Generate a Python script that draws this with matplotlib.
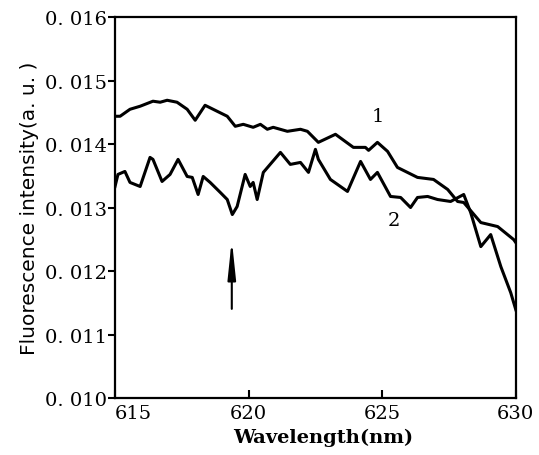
import numpy as np
import matplotlib
matplotlib.use("Agg")
import matplotlib.pyplot as plt

# curve 1 (upper)
wl_1 = [615.0, 615.19, 615.56, 615.94, 616.42, 616.69, 616.95, 617.32, 617.70, 618.0,
        618.37, 618.82, 619.20, 619.50, 619.80, 620.17, 620.44, 620.70, 620.92, 621.45,
        621.94, 622.20, 622.61, 623.25, 623.92, 624.37, 624.49, 624.82, 625.20, 625.57,
        626.32, 626.92, 627.45, 627.82, 628.05, 628.69, 629.32, 629.92, 630.0]
int_1 = [0.014437, 0.014437, 0.014547, 0.014595, 0.014674, 0.014658, 0.014689, 0.014658, 0.014547, 0.014374,
         0.014610, 0.014516, 0.014437, 0.014279, 0.014310, 0.014263, 0.014310, 0.014232, 0.014263, 0.014200,
         0.014232, 0.014200, 0.014026, 0.014153, 0.013947, 0.013947, 0.013900, 0.014026, 0.013884, 0.013631,
         0.013474, 0.013442, 0.013284, 0.013095, 0.013079, 0.012763, 0.012700, 0.012495, 0.012447]

# curve 2 (lower)
wl_2 = [615.0, 615.11, 615.37, 615.56, 615.94, 616.31, 616.42, 616.76, 617.06, 617.36,
        617.70, 617.89, 618.11, 618.30, 618.56, 618.94, 619.20, 619.39, 619.57, 619.87,
        620.06, 620.17, 620.32, 620.55, 621.19, 621.56, 621.94, 622.24, 622.50, 622.61,
        623.06, 623.70, 624.19, 624.56, 624.82, 625.31, 625.69, 626.06, 626.32, 626.70,
        627.07, 627.56, 628.05, 628.31, 628.69, 629.06, 629.44, 629.81, 630.0]
int_2 = [0.013331, 0.013521, 0.013568, 0.013395, 0.013331, 0.013789, 0.013758, 0.013410, 0.013521, 0.013758,
         0.013489, 0.013474, 0.013205, 0.013489, 0.013395, 0.013237, 0.013126, 0.012889, 0.013016, 0.013521,
         0.013331, 0.013395, 0.013126, 0.013553, 0.013868, 0.013679, 0.013710, 0.013553, 0.013916, 0.013758,
         0.013442, 0.013253, 0.013726, 0.013442, 0.013553, 0.013174, 0.013158, 0.013000, 0.013158, 0.013174,
         0.013126, 0.013095, 0.013205, 0.012921, 0.012384, 0.012574, 0.012068, 0.011658, 0.011389]

x_ticks = [615, 620, 625, 630]
y_ticks = [0.010, 0.011, 0.012, 0.013, 0.014, 0.015, 0.016]
y_tick_labels = ["0. 010", "0. 011", "0. 012", "0. 013", "0. 014", "0. 015", "0. 016"]

arrow_wl = 619.37
arrow_from = 0.01136
arrow_to = 0.01254

plt.rcParams['font.family'] = ['DejaVu Serif']

fig = plt.figure(figsize=(5.39, 4.56), dpi=100)
ax = fig.add_axes([0.2134, 0.125, 0.7436, 0.8355])

ax.plot(wl_1, int_1, color="black", lw=2.2)
ax.plot(wl_2, int_2, color="black", lw=2.2)

ax.text(624.82, 0.01444, "1", fontsize=14, ha="center", va="center")
ax.text(625.42, 0.01281, "2", fontsize=14, ha="center", va="center")

ax.annotate("", xy=(arrow_wl, arrow_to), xytext=(arrow_wl, arrow_from),
            arrowprops=dict(arrowstyle="-|>,head_length=1.15,head_width=0.12",
                            mutation_scale=20, color="black", lw=1.5))

ax.set_xlim(615, 630)
ax.set_ylim(0.010, 0.016)
ax.set_xticks(x_ticks)
ax.set_xticklabels([str(t) for t in x_ticks], fontsize=14)
ax.set_yticks(y_ticks)
ax.set_yticklabels(y_tick_labels, fontsize=14)
ax.get_xticklabels()[0].set_ha("left")

ax.tick_params(axis="x", direction="in", length=6, width=1.5, pad=4)
ax.tick_params(axis="y", direction="out", length=5, width=1.5, pad=1)
for s in ax.spines.values():
    s.set_linewidth(1.6)

ax.set_xlabel("Wavelength(nm)", fontsize=14, fontweight="bold")
ax.xaxis.set_label_coords(0.519, -0.078)
ax.set_ylabel("Fluorescence intensity(a. u. )", fontsize=14.5, family="DejaVu Sans", labelpad=4)

fig.savefig("out.png", dpi=100)
